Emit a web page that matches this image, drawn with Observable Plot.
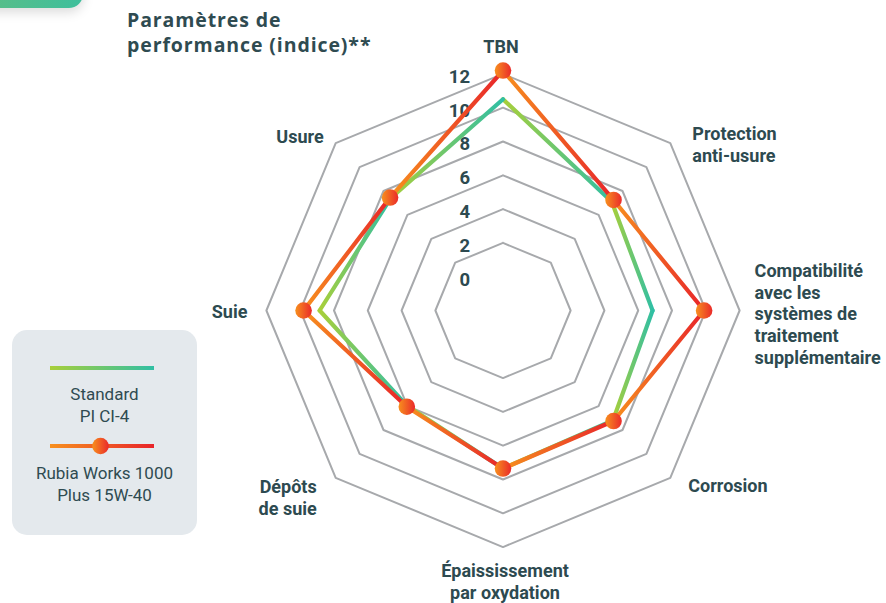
<!DOCTYPE html>
<html>
<head>
<meta charset="utf-8">
<script src="https://cdn.jsdelivr.net/npm/d3@7"></script>
<script src="https://cdn.jsdelivr.net/npm/@observablehq/plot@0.6"></script>
<style>
  html, body { margin: 0; padding: 0; background: #fff; overflow: hidden; }
  #wrap { position: relative; width: 886px; height: 603px; }
  #chart { position: absolute; left: 0; top: 0; }
  #deco { position: absolute; left: -30px; top: -40px; width: 113px; height: 48px; border-radius: 14px;
          background: linear-gradient(90deg, #5dbd84, #3ebf9c); box-shadow: 0 4px 12px rgba(0,0,0,0.15); }
  #title { position: absolute; left: 127px; top: 7px; font-family: "Open Sans", sans-serif; font-weight: 700;
           font-size: 19.5px; letter-spacing: 0.9px; line-height: 25px; color: #2f4b51; }
  #legend { position: absolute; left: 12px; top: 330px; width: 185px; height: 205px; border-radius: 15px;
            background: #e4e9ed; font-family: Roboto, sans-serif; color: #2f4b51; font-size: 17px; text-align: center; }
  #legend svg { position: absolute; left: 0; top: 0; }
  #legend .t { position: absolute; left: 0; width: 185px; line-height: 21.5px; }
</style>
</head>
<body>
<div id="wrap">
  <div id="chart"></div>
  <div id="deco"></div>
  <div id="title">Paramètres de<br>performance (indice)**</div>
  <div id="legend"></div>
</div>
<script>
// ---- data ----
const axes = [
  "TBN",
  "Protection\nanti-usure",
  "Compatibilité\navec les\nsystèmes de\ntraitement\nsupplémentaire",
  "Corrosion",
  "Épaississement\npar oxydation",
  "Dépôts\nde suie",
  "Suie",
  "Usure"
];
const standardValues = [10.5, 7.1, 6.85, 7.2, 7.35, 6.0, 8.85, 7.4];
const rubiaValues    = [12.2, 7.25, 9.9, 7.25, 7.35, 6.05, 9.8, 7.45];
const seriesNames = ["Standard\nPI CI-4", "Rubia Works 1000\nPlus 15W-40"];
const tickValues = [0, 2, 4, 6, 8, 10, 12];
const ringValues = [2, 4, 6, 8, 10, 12];

// ---- layout (not data) ----
const W = 886, H = 603, cx = 502.5, cy = 310;
const rScale = d3.scaleLinear().domain([-2, 12]).range([0, 236.6]);
const labelNudge = [
  {dx: -2, dy: -28, anchor: "middle"},
  {dx: 22, dy: 1, anchor: "start"},
  {dx: 15, dy: 3, anchor: "start"},
  {dx: 18, dy: 7, anchor: "start"},
  {dx: 2, dy: 34, anchor: "middle"},
  {dx: -19, dy: 19, anchor: "end"},
  {dx: -19, dy: 1, anchor: "end"},
  {dx: -12, dy: -7, anchor: "end"}
];
const textColor = "#2d4a50";

const n = axes.length;
const angle = i => i * 2 * Math.PI / n;
const pt = (v, i) => ({x: rScale(v) * Math.sin(angle(i)), y: rScale(v) * Math.cos(angle(i))});

// rings
const ringPts = [];
ringValues.forEach(v => {
  for (let i = 0; i <= n; i++) ringPts.push({ring: v, ...pt(v, i % n)});
});
// segments
function segments(vals) {
  return vals.map((v, i) => {
    const a = pt(v, i), b = pt(vals[(i + 1) % n], (i + 1) % n);
    return {x1: a.x, y1: a.y, x2: b.x, y2: b.y};
  });
}
const stdSegs = segments(standardValues);
const rubSegs = segments(rubiaValues);
const rubPts = rubiaValues.map((v, i) => pt(v, i));
const ticks = tickValues.map(v => ({v, x: 0, y: rScale(v)}));

const labelMarks = axes.map((name, i) => {
  const p = pt(12, i);
  const nud = labelNudge[i];
  return Plot.text([{...p, name}], {
    x: "x", y: "y", text: "name", dx: nud.dx, dy: nud.dy, textAnchor: nud.anchor,
    fontFamily: "Roboto", fontWeight: "bold", fontSize: 18, lineHeight: 1.2, fill: textColor
  });
});

const svg = Plot.plot({
  width: W, height: H,
  marginTop: 0, marginRight: 0, marginBottom: 0, marginLeft: 0,
  x: {domain: [-cx, W - cx], axis: null},
  y: {domain: [-(H - cy), cy], axis: null},
  style: {background: "transparent", overflow: "visible"},
  marks: [
    Plot.line(ringPts, {x: "x", y: "y", z: "ring", stroke: "#a7a9ac", strokeWidth: 2}),
    Plot.text(ticks, {x: "x", y: "y", text: d => String(d.v), dx: -33, dy: 3, textAnchor: "end",
      fontFamily: "Roboto", fontWeight: "bold", fontSize: 18.5, fill: textColor}),
    Plot.link(stdSegs, {x1: "x1", y1: "y1", x2: "x2", y2: "y2", stroke: "url(#gStd)", strokeWidth: 4.2, strokeLinecap: "round"}),
    Plot.link(rubSegs, {x1: "x1", y1: "y1", x2: "x2", y2: "y2", stroke: "url(#gRub)", strokeWidth: 4.2, strokeLinecap: "round"}),
    Plot.dot(rubPts, {x: "x", y: "y", r: 8.3, fill: "url(#gDot)", stroke: "none"}),
    ...labelMarks
  ]
});

const defs = d3.select(svg).insert("defs", ":first-child");
function grad(id, c1, c2) {
  const g = defs.append("linearGradient").attr("id", id).attr("x1", 0).attr("y1", 0).attr("x2", 1).attr("y2", 0);
  g.append("stop").attr("offset", 0).attr("stop-color", c1);
  g.append("stop").attr("offset", 1).attr("stop-color", c2);
}
grad("gStd", "#a8cf3a", "#30bfa4");
grad("gRub", "#f7901e", "#e8242a");
grad("gDot", "#f7901e", "#ea2a2a");
document.getElementById("chart").appendChild(svg);

// legend
const leg = document.getElementById("legend");
leg.innerHTML = `<svg width="185" height="205">
  <rect x="38" y="36" width="104" height="4" fill="url(#gStd)"></rect>
  <rect x="38" y="114" width="104" height="4" fill="url(#gRub)"></rect>
  <circle cx="88.5" cy="116" r="8.3" fill="url(#gDot)"></circle>
</svg>`;
const t1 = document.createElement("div"); t1.className = "t"; t1.style.top = "54px";
t1.innerHTML = seriesNames[0].replace("\n", "<br>");
const t2 = document.createElement("div"); t2.className = "t"; t2.style.top = "133px";
t2.innerHTML = seriesNames[1].replace("\n", "<br>");
leg.appendChild(t1); leg.appendChild(t2);
</script>
</body>
</html>
